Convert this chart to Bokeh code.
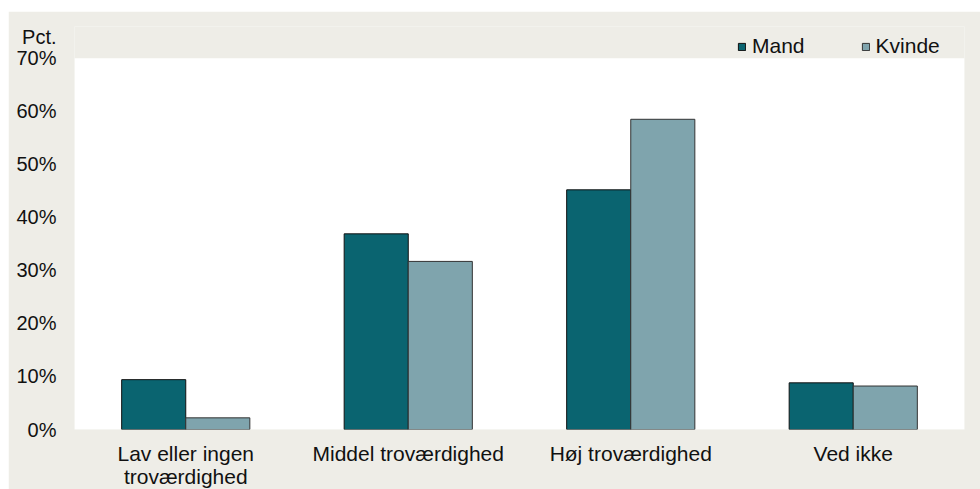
import json
from bokeh.plotting import figure
from bokeh.models import (FactorRange, ColumnDataSource, Legend, LegendItem, FixedTicker,
                          CustomJSTickFormatter, BoxAnnotation, CategoricalAxis)
from bokeh.transform import dodge
from bokeh.embed import file_html
from bokeh.resources import INLINE

categories = ["Lav eller ingen troværdighed", "Middel troværdighed", "Høj troværdighed", "Ved ikke"]
label_line1 = ["Lav eller ingen", "Middel troværdighed", "Høj troværdighed", "Ved ikke"]
label_line2 = ["troværdighed", "", "", ""]
mand = [9.4, 36.9, 45.2, 8.8]
kvinde = [2.2, 31.7, 58.5, 8.2]
y_ticks = [0, 10, 20, 30, 40, 50, 60, 70]
y_unit_label = "Pct."
series_names = ["Mand", "Kvinde"]

BG = "#EEEDE7"
C_MAND = "#0A6470"
C_KVINDE = "#7FA4AD"
FONT = "Liberation Sans"
FS = "21px"
FS_TICK = "20px"

src = ColumnDataSource(dict(cat=categories, mand=mand, kvinde=kvinde))

p = figure(x_range=FactorRange(*categories), y_range=(0, 76),
           frame_width=890, frame_height=403, output_backend="svg", toolbar_location=None,
           min_border_left=66, min_border_right=16, min_border_top=15, min_border_bottom=56)
p.margin = (11, 0, 0, 8)
p.background_fill_color = BG
p.border_fill_color = BG
p.outline_line_color = None
p.xgrid.visible = False
p.ygrid.visible = False

# white plotting area from 0 to 70 %
p.add_layout(BoxAnnotation(bottom=0, top=max(y_ticks), fill_color="white", fill_alpha=1,
                           line_color=None, level="underlay"))

bw = 0.288
r1 = p.vbar(x=dodge("cat", -bw / 2, range=p.x_range), top="mand", width=bw, source=src,
            fill_color=C_MAND, line_color="#111111", line_width=1)
r2 = p.vbar(x=dodge("cat", bw / 2, range=p.x_range), top="kvinde", width=bw, source=src,
            fill_color=C_KVINDE, line_color="#333333", line_width=1)

# unit label "Pct." is drawn as an extra y tick label above 70 %
unit_tick = 74
p.yaxis.ticker = FixedTicker(ticks=y_ticks + [unit_tick])
p.yaxis.formatter = CustomJSTickFormatter(code="return tick + '%';")
p.yaxis.major_label_overrides = {unit_tick: y_unit_label}


def cat_formatter(lines):
    mapping = json.dumps(dict(zip(categories, lines)), ensure_ascii=False)
    return CustomJSTickFormatter(code=f"const m = {mapping}; return (tick in m) ? m[tick] : tick;")


# second line of the category labels on an extra axis below the first
x2 = CategoricalAxis()
p.add_layout(x2, "below")
p.xaxis[0].formatter = cat_formatter(label_line1)
x2.formatter = cat_formatter(label_line2)

for ax in (p.xaxis[0], x2, p.yaxis[0]):
    ax.axis_line_color = None
    ax.major_tick_line_color = None
    ax.minor_tick_line_color = None
    ax.major_tick_out = 0
    ax.major_tick_in = 0
    ax.minor_tick_out = 0
    ax.major_label_text_font = FONT
    ax.major_label_text_color = "#111111"
p.yaxis.major_label_text_font_size = FS_TICK
p.xaxis[0].major_label_text_font_size = FS
x2.major_label_text_font_size = FS
p.yaxis.major_label_standoff = 18
p.xaxis[0].major_label_standoff = 12
x2.major_label_standoff = -3

legend = Legend(items=[LegendItem(label=series_names[0], renderers=[r1]),
                       LegendItem(label=series_names[1], renderers=[r2])],
                location=(663, 371), orientation="horizontal",
                background_fill_alpha=0, border_line_color=None,
                padding=0, margin=0, spacing=56,
                glyph_width=9, glyph_height=9, label_standoff=6,
                label_text_font=FONT, label_text_font_size=FS, label_text_color="#111111")
p.add_layout(legend, "center")

open("out.html", "w").write(file_html(p, INLINE))
